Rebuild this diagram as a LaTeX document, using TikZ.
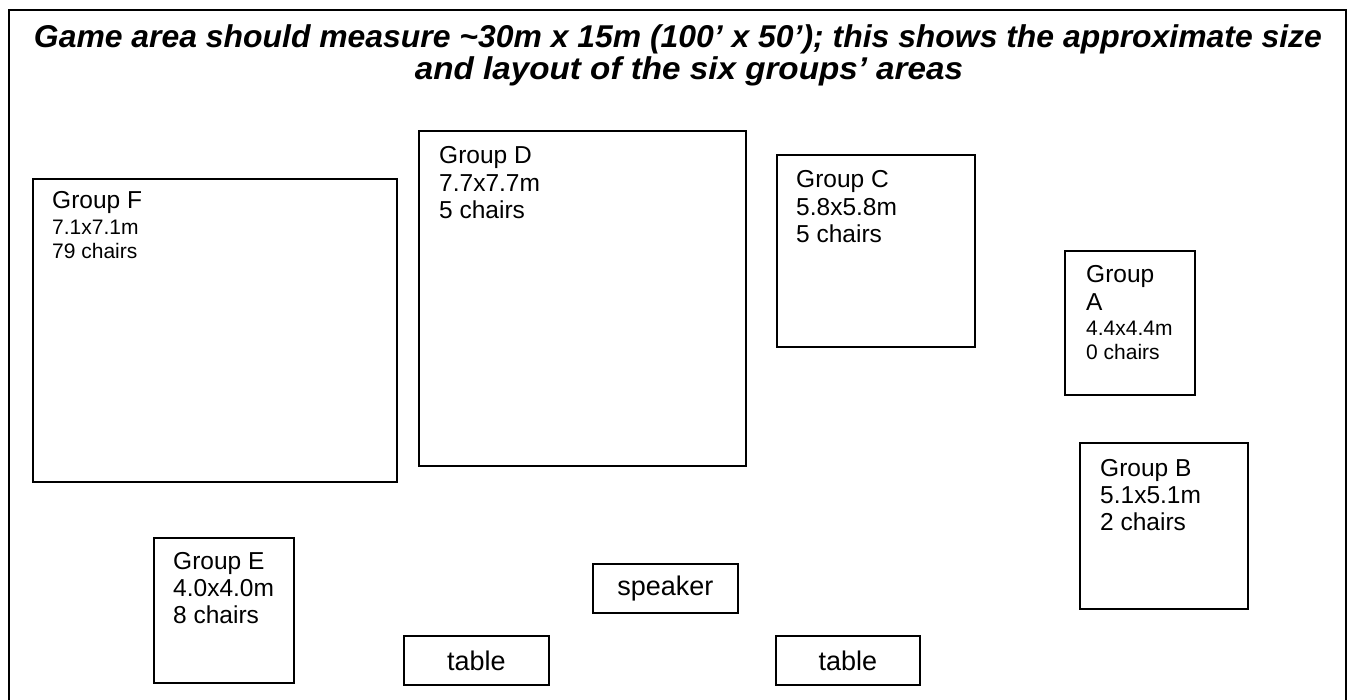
\documentclass[tikz,border=0pt]{standalone}
\usepackage{fontspec}
\setmainfont{Liberation Sans}
\usepackage{graphicx}
\begin{document}
\begin{tikzpicture}[x=1pt,y=-1pt,
  grp/.style={draw=black, line width=1.8pt, inner sep=0pt, anchor=north west},
  big/.style={anchor=base west, inner sep=0pt, font=\fontsize{24.5}{28}\selectfont},
  small/.style={anchor=base west, inner sep=0pt, font=\fontsize{21}{24}\selectfont},
  tag/.style={draw=black, line width=1.8pt, inner sep=0pt, anchor=north west, font=\fontsize{27}{31}\selectfont},
  ttl/.style={anchor=base, inner sep=0pt, font=\fontsize{31.5}{32}\selectfont\bfseries\itshape}]
\useasboundingbox (0,0) rectangle (1347,700);
\clip (0,0) rectangle (1347,700);
\fill[white] (0,0) rectangle (1347,700);
% outer frame
\node[grp, line width=2pt, minimum width=1337pt, minimum height=730pt] (frame) at (8,9) {};
% title
\node[ttl] (t1) at (678,48) {\resizebox{1288pt}{\height}{Game area should measure \textasciitilde30m x 15m (100’ x 50’); this shows the approximate size}};
\node[ttl] (t2) at (689,80) {\resizebox{548pt}{\height}{and layout of the six groups’ areas}};
% Group F
\node[grp, minimum width=364pt, minimum height=303pt] (F) at (32,178) {};
\node[big] (F1) at (52,209) {Group F};
\node[small] (F2) at (52,235) {7.1x7.1m};
\node[small] (F3) at (52,259) {79 chairs};
% Group D
\node[grp, minimum width=327pt, minimum height=335pt] (D) at (418,130) {};
\node[big] (D1) at (439,164) {Group D};
\node[big] (D2) at (439,192) {7.7x7.7m};
\node[big] (D3) at (439,219) {5 chairs};
% Group C
\node[grp, minimum width=198pt, minimum height=192pt] (C) at (776,154) {};
\node[big] (C1) at (796,188) {Group C};
\node[big] (C2) at (796,216) {5.8x5.8m};
\node[big] (C3) at (796,243) {5 chairs};
% Group A
\node[grp, minimum width=130pt, minimum height=144pt] (A) at (1064,250) {};
\node[big] (A1) at (1086,283) {Group};
\node[big] (A2) at (1086,311) {A};
\node[small] (A3) at (1086,336) {4.4x4.4m};
\node[small] (A4) at (1086,360) {0 chairs};
% Group B
\node[grp, minimum width=168pt, minimum height=166pt] (B) at (1079,442) {};
\node[big] (B1) at (1100,476) {Group B};
\node[big] (B2) at (1100,503) {5.1x5.1m};
\node[big] (B3) at (1100,530) {2 chairs};
% Group E
\node[grp, minimum width=140pt, minimum height=145pt] (E) at (153,537) {};
\node[big] (E1) at (173,569) {Group E};
\node[big] (E2) at (173,596) {4.0x4.0m};
\node[big] (E3) at (173,623) {8 chairs};
% speaker and tables
\node[tag, minimum width=145pt, minimum height=49pt] (spk) at (592,563) {speaker};
\node[tag, minimum width=145pt, minimum height=49pt] (tb1) at (403,635) {table};
\node[tag, minimum width=144pt, minimum height=49pt] (tb2) at (775,635) {table};
\end{tikzpicture}
\end{document}
